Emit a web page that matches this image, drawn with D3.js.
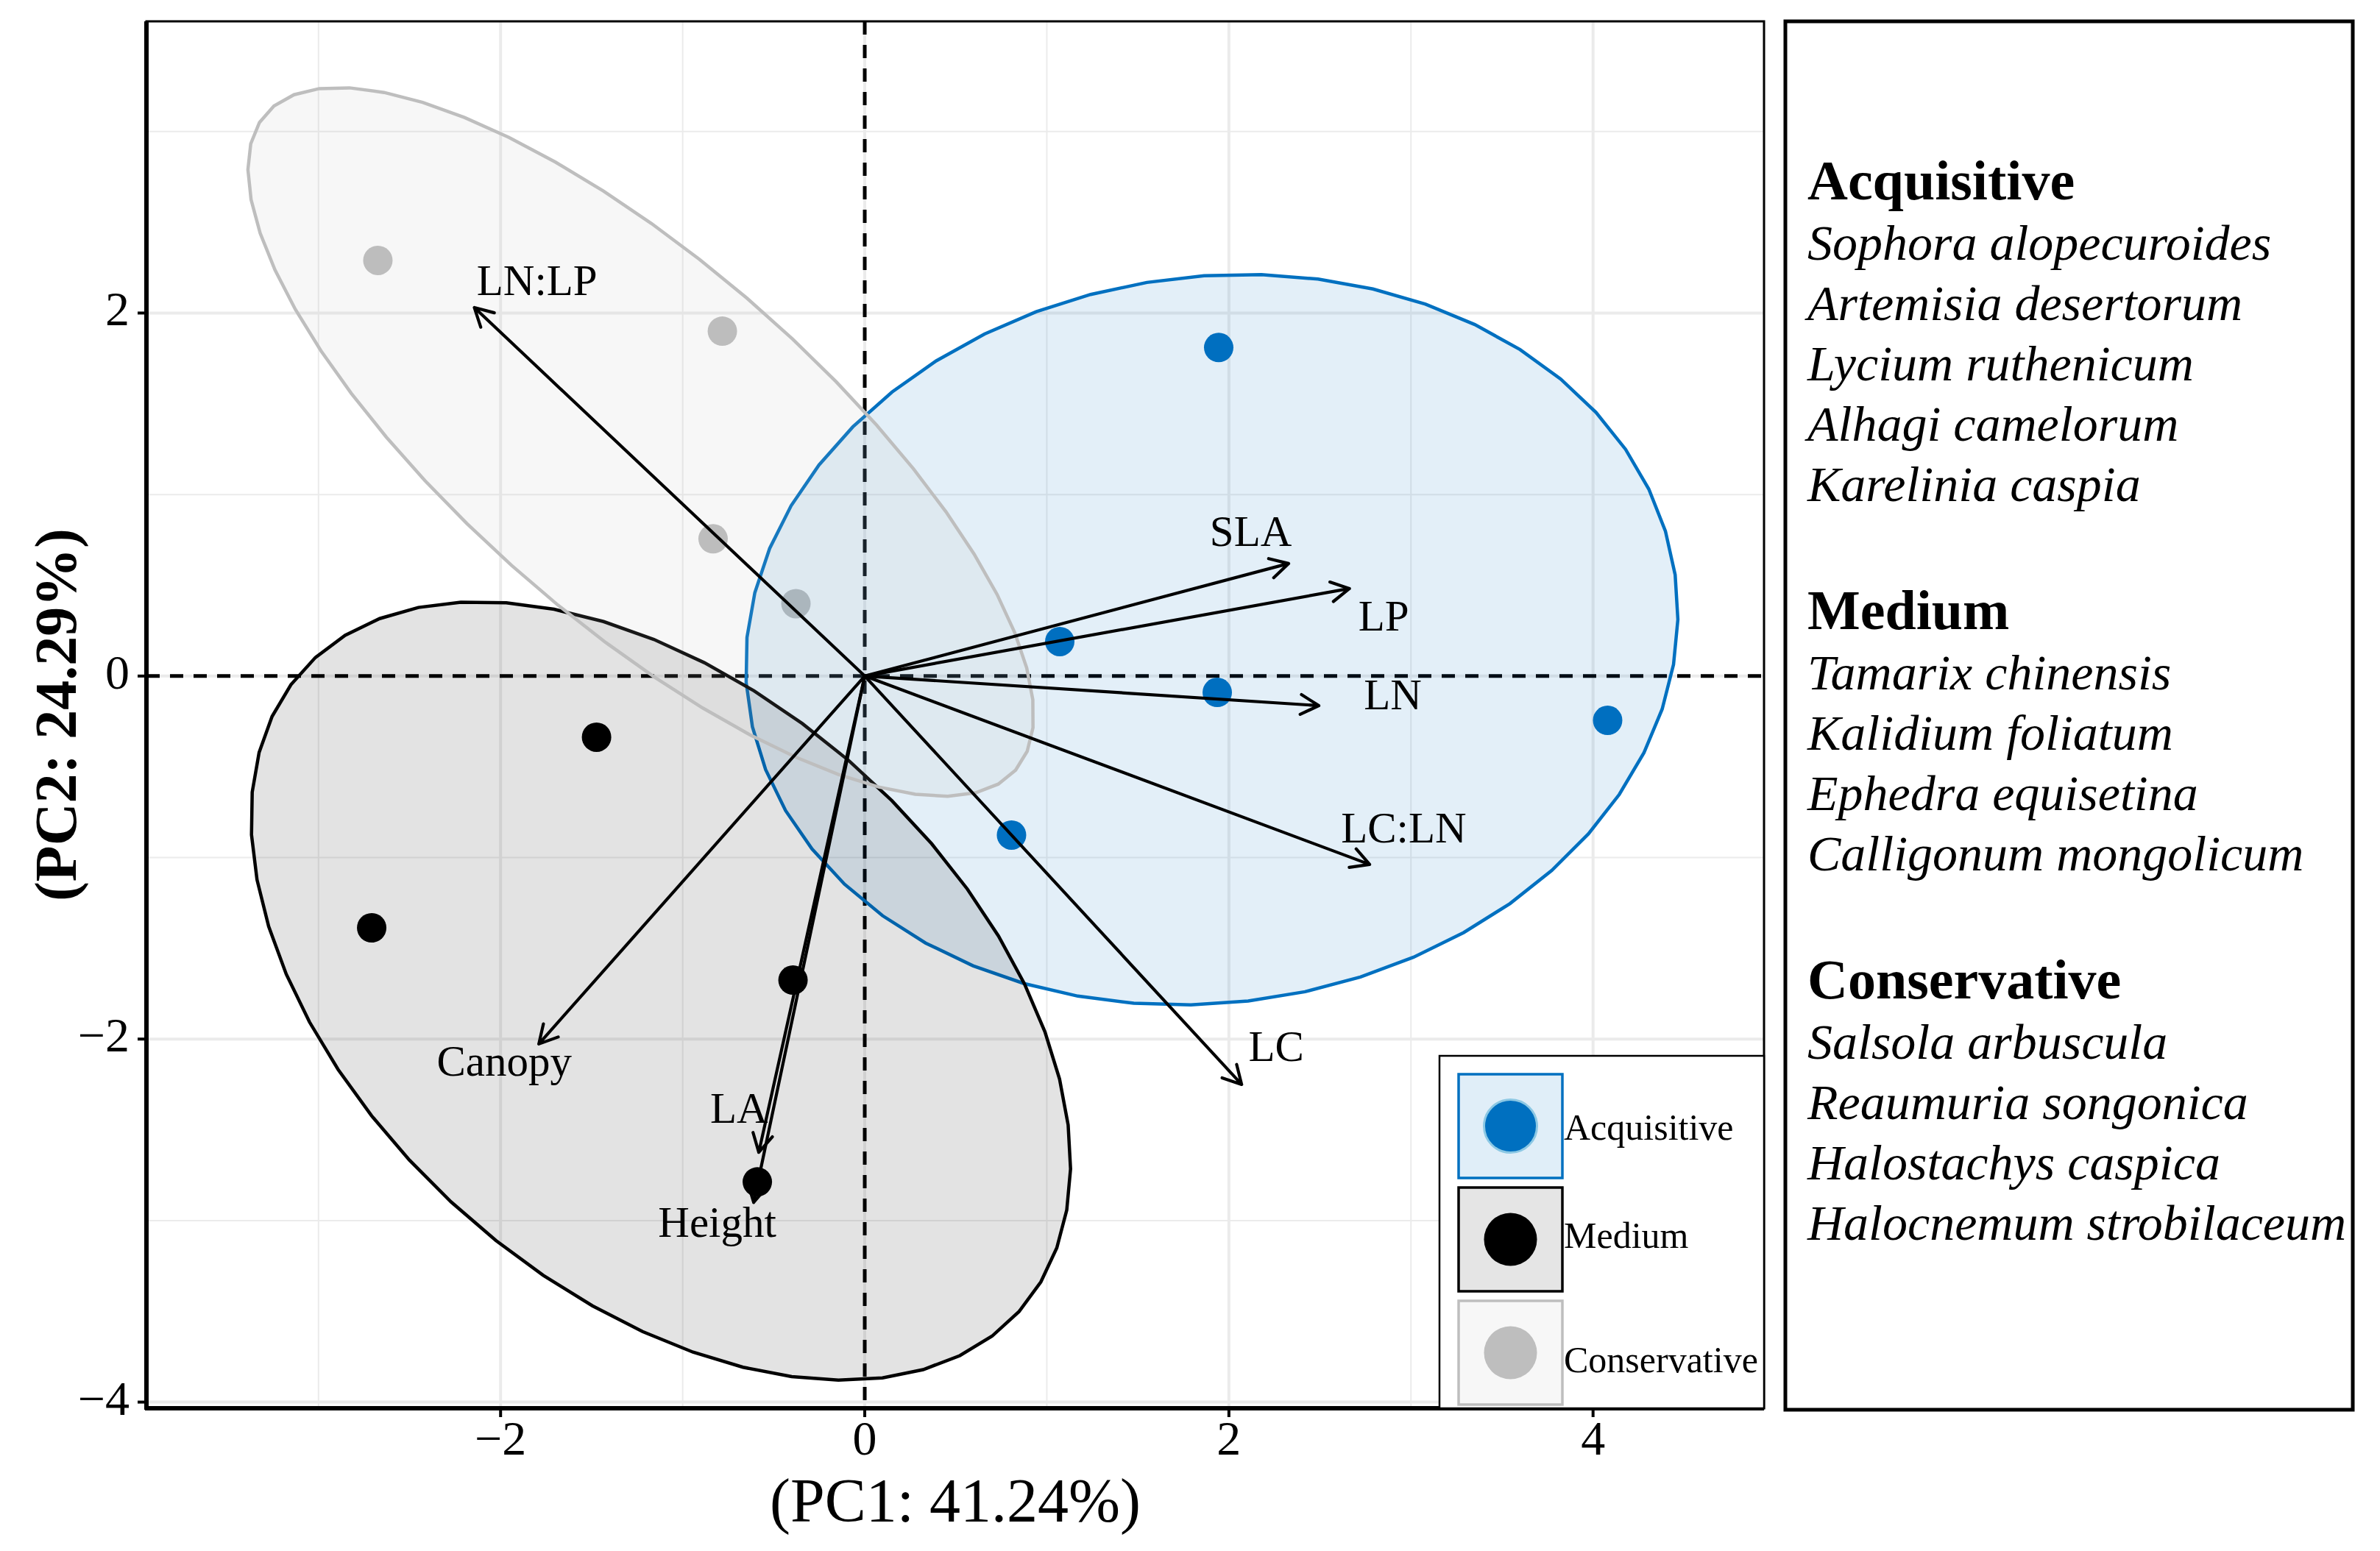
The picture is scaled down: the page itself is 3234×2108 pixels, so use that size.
<!DOCTYPE html>
<html>
<head>
<meta charset="utf-8">
<script src="https://cdn.jsdelivr.net/npm/d3@7"></script>
<style>
  html, body { margin: 0; padding: 0; background: #fff; }
  text { font-family: "Liberation Serif", "Times New Roman", serif; }
</style>
</head>
<body>
<svg id="chart"></svg>
<script>
// ---- data ----
const groups = ["Acquisitive", "Medium", "Conservative"];

// individuals (PCA scores)
const indGroup = ["Acquisitive", "Acquisitive", "Acquisitive", "Acquisitive", "Acquisitive",
                  "Medium", "Medium", "Medium", "Medium",
                  "Conservative", "Conservative", "Conservative", "Conservative"];
const indPC1 = [1.944, 1.071, 1.936, 4.08, 0.806,
                -1.473, -2.708, -0.394, -0.59,
                -2.674, -0.782, -0.833, -0.378];
const indPC2 = [1.81, 0.19, -0.09, -0.244, -0.876,
                -0.337, -1.387, -1.675, -2.787,
                2.29, 1.90, 0.756, 0.399];

// variables (loadings, arrow tips) and label anchors
const varNames = ["LN:LP", "SLA", "LP", "LN", "LC:LN", "LC", "Canopy", "LA", "Height"];
const varPC1 = [-2.144, 2.328, 2.662, 2.494, 2.773, 2.07, -1.79, -0.582, -0.61];
const varPC2 = [2.03, 0.62, 0.482, -0.163, -1.038, -2.25, -2.027, -2.624, -2.90];
const labelPC1 = [-1.80, 2.12, 2.85, 2.90, 2.96, 2.26, -1.98, -0.69, -0.81];
const labelPC2 = [2.10, 0.715, 0.25, -0.183, -0.917, -2.12, -2.20, -2.46, -3.09];

// group ellipses: centre, semi-axes, rotation (deg)
const ellCx = [1.906, -1.12, -1.23];
const ellCy = [0.2, -1.735, 1.29];
const ellA = [2.57, 2.644, 2.74];
const ellB = [2.0, 1.635, 0.98];
const ellAngle = [8, -41.9, -41.3];

const xTicks = [-2, 0, 2, 4];
const yTicks = [-4, -2, 0, 2];
const xMinor = [-3, -1, 1, 3];
const yMinor = [-3, -1, 1, 3];

const xTitle = "(PC1: 41.24%)";
const yTitle = "(PC2: 24.29%)";

const acquisitiveSpecies = ["Sophora alopecuroides", "Artemisia desertorum", "Lycium ruthenicum",
                            "Alhagi camelorum", "Karelinia caspia"];
const mediumSpecies = ["Tamarix chinensis", "Kalidium foliatum", "Ephedra equisetina",
                       "Calligonum mongolicum"];
const conservativeSpecies = ["Salsola arbuscula", "Reaumuria songonica", "Halostachys caspica",
                             "Halocnemum strobilaceum"];

// ---- layout ----
const W = 3234, H = 2108;
const panel = { left: 199, right: 2397, top: 29, bottom: 1914 };

const svg = d3.select("#chart").attr("width", W).attr("height", H);
svg.append("rect").attr("width", W).attr("height", H).attr("fill", "#fff");

const x = d3.scaleLinear().domain([-3.945, 4.939]).range([panel.left, panel.right]);
const y = d3.scaleLinear().domain([-4.034, 3.607]).range([panel.bottom, panel.top]);

const fillCol = d3.scaleOrdinal().domain(groups).range(["#0070C0", "#000000", "#BEBEBE"]);
const keyFill = d3.scaleOrdinal().domain(groups).range(["#e0eef8", "#e5e5e5", "#f7f7f7"]);

// grid
const grid = svg.append("g");
grid.selectAll(".xminor").data(xMinor).enter().append("line")
  .attr("x1", d => x(d)).attr("x2", d => x(d)).attr("y1", panel.top).attr("y2", panel.bottom)
  .attr("stroke", "#ebebeb").attr("stroke-width", 2);
grid.selectAll(".yminor").data(yMinor).enter().append("line")
  .attr("y1", d => y(d)).attr("y2", d => y(d)).attr("x1", panel.left).attr("x2", panel.right)
  .attr("stroke", "#ebebeb").attr("stroke-width", 2);
grid.selectAll(".xmajor").data(xTicks).enter().append("line")
  .attr("x1", d => x(d)).attr("x2", d => x(d)).attr("y1", panel.top).attr("y2", panel.bottom)
  .attr("stroke", "#ebebeb").attr("stroke-width", 4);
grid.selectAll(".ymajor").data(yTicks).enter().append("line")
  .attr("y1", d => y(d)).attr("y2", d => y(d)).attr("x1", panel.left).attr("x2", panel.right)
  .attr("stroke", "#ebebeb").attr("stroke-width", 4);

// zero reference lines
svg.append("line").attr("x1", x(0)).attr("x2", x(0)).attr("y1", panel.top).attr("y2", panel.bottom)
  .attr("stroke", "#000").attr("stroke-width", 5).attr("stroke-dasharray", "18,14");
svg.append("line").attr("y1", y(0)).attr("y2", y(0)).attr("x1", panel.left).attr("x2", panel.right)
  .attr("stroke", "#000").attr("stroke-width", 5).attr("stroke-dasharray", "18,14");

// individuals
const inds = indPC1.map((v, i) => ({ x: v, y: indPC2[i], g: indGroup[i] }));
svg.append("g").selectAll("circle").data(inds).enter().append("circle")
  .attr("cx", d => x(d.x)).attr("cy", d => y(d.y)).attr("r", 20)
  .attr("fill", d => fillCol(d.g));

// ellipses
const ellLine = d3.line().x(p => x(p[0])).y(p => y(p[1])).curve(d3.curveLinearClosed);
const ellipses = groups.map((g, i) => {
  const th = ellAngle[i] * Math.PI / 180;
  const pts = d3.range(51).map(k => {
    const t = 2 * Math.PI * k / 51;
    const u = ellA[i] * Math.cos(t), v = ellB[i] * Math.sin(t);
    return [ellCx[i] + u * Math.cos(th) - v * Math.sin(th),
            ellCy[i] + u * Math.sin(th) + v * Math.cos(th)];
  });
  return { g, pts };
});
svg.append("g").selectAll("path").data(ellipses).enter().append("path")
  .attr("d", d => ellLine(d.pts))
  .attr("fill", d => fillCol(d.g)).attr("fill-opacity", d => d.g === "Conservative" ? 0.12 : 0.11)
  .attr("stroke", d => fillCol(d.g)).attr("stroke-width", 4.5);

// variable arrows
const vars = varNames.map((n, i) => ({ n, x: varPC1[i], y: varPC2[i], lx: labelPC1[i], ly: labelPC2[i] }));
const arrows = svg.append("g").attr("fill", "none").attr("stroke", "#000")
  .attr("stroke-width", 4.2).attr("stroke-linecap", "round").attr("stroke-linejoin", "round");
vars.forEach(d => {
  const x0 = x(0), y0 = y(0), x1 = x(d.x), y1 = y(d.y);
  const ang = Math.atan2(y1 - y0, x1 - x0);
  const len = 28, spread = 0.5;
  const p = d3.path();
  p.moveTo(x0, y0); p.lineTo(x1, y1);
  p.moveTo(x1 - len * Math.cos(ang - spread), y1 - len * Math.sin(ang - spread));
  p.lineTo(x1, y1);
  p.lineTo(x1 - len * Math.cos(ang + spread), y1 - len * Math.sin(ang + spread));
  arrows.append("path").attr("d", p.toString());
});
svg.append("g").selectAll("text").data(vars).enter().append("text")
  .attr("x", d => x(d.lx)).attr("y", d => y(d.ly))
  .attr("text-anchor", "middle").attr("font-size", 59).attr("fill", "#000")
  .text(d => d.n);

// panel border and axes
svg.append("rect").attr("x", panel.left).attr("y", panel.top)
  .attr("width", panel.right - panel.left).attr("height", panel.bottom - panel.top)
  .attr("fill", "none").attr("stroke", "#000").attr("stroke-width", 3);
svg.append("line").attr("x1", panel.left).attr("x2", panel.left).attr("y1", panel.top).attr("y2", panel.bottom + 2)
  .attr("stroke", "#000").attr("stroke-width", 6);
svg.append("line").attr("x1", panel.left - 2).attr("x2", panel.right).attr("y1", panel.bottom).attr("y2", panel.bottom)
  .attr("stroke", "#000").attr("stroke-width", 6);

const fmt = v => (v < 0 ? "\u2212" + Math.abs(v) : String(v));
const xAxis = svg.append("g");
xAxis.selectAll("line").data(xTicks).enter().append("line")
  .attr("x1", d => x(d)).attr("x2", d => x(d)).attr("y1", panel.bottom).attr("y2", panel.bottom + 12)
  .attr("stroke", "#000").attr("stroke-width", 4);
xAxis.selectAll("text").data(xTicks).enter().append("text")
  .attr("x", d => x(d)).attr("y", 1977).attr("text-anchor", "middle")
  .attr("font-size", 66).text(fmt);
const yAxis = svg.append("g");
yAxis.selectAll("line").data(yTicks).enter().append("line")
  .attr("x1", panel.left - 12).attr("x2", panel.left).attr("y1", d => y(d)).attr("y2", d => y(d))
  .attr("stroke", "#000").attr("stroke-width", 4);
yAxis.selectAll("text").data(yTicks).enter().append("text")
  .attr("x", 176).attr("y", d => y(d) + 17).attr("text-anchor", "end")
  .attr("font-size", 66).text(fmt);

svg.append("text").attr("x", (panel.left + panel.right) / 2).attr("y", 2068)
  .attr("text-anchor", "middle").attr("font-size", 84).text(xTitle);
svg.append("text").attr("transform", `translate(103,${(panel.top + panel.bottom) / 2}) rotate(-90)`)
  .attr("text-anchor", "middle").attr("font-size", 80).attr("font-weight", "bold").text(yTitle);

// in-plot legend
const leg = svg.append("g");
leg.append("rect").attr("x", 1956).attr("y", 1435).attr("width", panel.right - 1956).attr("height", panel.bottom - 1435)
  .attr("fill", "#fff").attr("stroke", "#000").attr("stroke-width", 2.5);
const keyTextShift = [18, 11, 26];
groups.forEach((g, i) => {
  const ky = 1460 + i * 154, kx = 1982, ks = 141;
  leg.append("rect").attr("x", kx).attr("y", ky).attr("width", ks).attr("height", ks)
    .attr("fill", keyFill(g)).attr("stroke", fillCol(g)).attr("stroke-width", 3.5);
  leg.append("circle").attr("cx", kx + ks / 2).attr("cy", ky + ks / 2).attr("r", 36)
    .attr("fill", fillCol(g))
    .attr("stroke", g === "Acquisitive" ? "#8cc8e4" : "none").attr("stroke-width", 3);
  leg.append("text").attr("x", kx + ks + 2).attr("y", ky + ks / 2 + keyTextShift[i])
    .attr("font-size", 50).text(g);
});

// species panel
const side = svg.append("g");
side.append("rect").attr("x", 2426).attr("y", 29).attr("width", 771).attr("height", 1887)
  .attr("fill", "#fff").attr("stroke", "#000").attr("stroke-width", 5);
const speciesLists = [acquisitiveSpecies, mediumSpecies, conservativeSpecies];
let line = 0;
groups.forEach((g, gi) => {
  const by = 271 + line * 82 + gi * 92;
  side.append("text").attr("x", 2456).attr("y", by)
    .attr("font-size", 76).attr("font-weight", "bold").text(g);
  speciesLists[gi].forEach((s, si) => {
    side.append("text").attr("x", 2456).attr("y", by + (si + 1) * 82)
      .attr("font-size", 68).attr("font-style", "italic").text(s);
  });
  line += speciesLists[gi].length + 1;
});
</script>
</body>
</html>
